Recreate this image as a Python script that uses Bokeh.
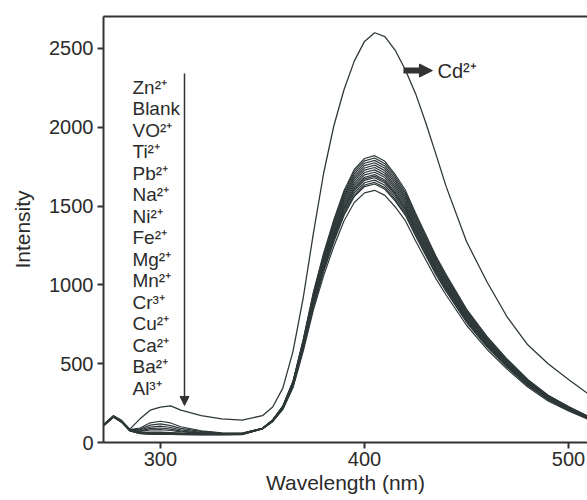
from bokeh.plotting import figure
from bokeh.models import Range1d, LinearAxis, FixedTicker, Arrow, NormalHead, ColumnDataSource
from bokeh.core.properties import value
from bokeh.embed import file_html
from bokeh.resources import INLINE

# ---------------- data ----------------
wavelength = [272, 277, 281, 285, 290, 295, 300, 305, 310, 320, 330, 340,
              350, 355, 360, 365, 370, 375, 380, 385, 390, 395, 400, 405,
              410, 415, 420, 425, 430, 435, 440, 450, 460, 470, 480, 490, 500, 510]

ion_labels = ["Zn\u00b2\u207a", "Blank", "VO\u00b2\u207a", "Ti\u00b2\u207a", "Pb\u00b2\u207a",
              "Na\u00b2\u207a", "Ni\u00b2\u207a", "Fe\u00b2\u207a", "Mg\u00b2\u207a", "Mn\u00b2\u207a",
              "Cr\u00b3\u207a", "Cu\u00b2\u207a", "Ca\u00b2\u207a", "Ba\u00b2\u207a", "Al\u00b3\u207a"]
cd_label = "Cd\u00b2\u207a"

zn = [112, 170, 136, 82, 92, 125, 135, 124, 100, 74, 62, 60,
      90, 143, 232, 390, 655, 955, 1202, 1414, 1599, 1732, 1802, 1820,
      1784, 1702, 1602, 1456, 1320, 1183, 1065, 846, 673, 528, 400, 300, 228, 164]
blank = [110, 168, 135, 80, 86, 110, 118, 107, 90, 70, 60, 58,
         90, 143, 230, 388, 650, 948, 1193, 1403, 1586, 1718, 1787, 1805,
         1769, 1688, 1588, 1444, 1309, 1173, 1056, 839, 668, 523, 397, 298, 226, 162]
vo = [110, 167, 134, 80, 80, 98, 104, 95, 80, 64, 58, 57,
      90, 142, 229, 385, 645, 940, 1183, 1391, 1573, 1703, 1772, 1790,
      1754, 1674, 1575, 1432, 1298, 1164, 1047, 832, 662, 519, 394, 295, 224, 161]
ti = [109, 167, 134, 79, 74, 88, 92, 85, 72, 61, 57, 56,
      89, 141, 227, 382, 640, 932, 1173, 1379, 1560, 1689, 1757, 1775,
      1740, 1660, 1562, 1420, 1287, 1154, 1038, 825, 657, 515, 391, 293, 222, 160]
pb = [109, 166, 133, 79, 70, 80, 82, 76, 68, 59, 56, 56,
      89, 140, 226, 379, 635, 925, 1163, 1368, 1547, 1675, 1742, 1760,
      1725, 1646, 1549, 1408, 1276, 1144, 1030, 818, 651, 510, 387, 290, 220, 158]
na = [108, 166, 133, 78, 64, 66, 66, 63, 60, 57, 55, 55,
      89, 140, 224, 376, 630, 917, 1154, 1356, 1534, 1661, 1728, 1745,
      1710, 1632, 1536, 1396, 1265, 1134, 1021, 811, 646, 506, 384, 288, 218, 157]
ni = [108, 165, 132, 78, 63, 62, 62, 60, 58, 56, 55, 55,
      89, 139, 223, 373, 625, 909, 1144, 1345, 1521, 1646, 1713, 1730,
      1695, 1618, 1522, 1384, 1254, 1125, 1012, 804, 640, 502, 381, 285, 216, 156]
fe = [107, 165, 132, 77, 62, 60, 60, 59, 57, 55, 54, 54,
      88, 138, 221, 370, 619, 902, 1134, 1333, 1508, 1632, 1698, 1715,
      1681, 1604, 1509, 1372, 1243, 1115, 1003, 797, 635, 497, 377, 283, 214, 154]
mg = [107, 164, 131, 77, 61, 59, 58, 57, 56, 54, 53, 54,
      88, 137, 220, 368, 614, 894, 1124, 1322, 1494, 1618, 1683, 1700,
      1666, 1590, 1496, 1360, 1233, 1105, 995, 791, 629, 493, 374, 281, 213, 153]
mn = [106, 164, 131, 76, 60, 58, 57, 56, 55, 54, 53, 53,
      88, 137, 219, 366, 611, 889, 1118, 1314, 1486, 1608, 1673, 1690,
      1656, 1580, 1487, 1352, 1225, 1099, 989, 786, 625, 490, 372, 279, 211, 152]
cr = [106, 163, 130, 76, 60, 57, 56, 55, 54, 53, 52, 53,
      88, 136, 218, 364, 608, 884, 1111, 1306, 1477, 1599, 1663, 1680,
      1646, 1571, 1478, 1344, 1218, 1092, 983, 781, 622, 487, 370, 277, 210, 151]
cu = [105, 163, 130, 75, 59, 56, 55, 54, 53, 52, 52, 52,
      87, 136, 216, 361, 602, 876, 1102, 1295, 1464, 1585, 1648, 1665,
      1632, 1557, 1465, 1332, 1207, 1082, 974, 774, 616, 483, 366, 275, 208, 150]
ca = [105, 162, 129, 75, 58, 55, 54, 53, 52, 51, 51, 52,
      87, 135, 215, 358, 597, 868, 1092, 1283, 1451, 1570, 1634, 1650,
      1617, 1543, 1452, 1320, 1196, 1073, 965, 767, 611, 479, 363, 272, 206, 149]
ba = [104, 162, 129, 74, 57, 54, 53, 52, 51, 50, 50, 51,
      87, 134, 214, 356, 594, 863, 1085, 1275, 1442, 1561, 1624, 1640,
      1607, 1533, 1443, 1312, 1189, 1066, 959, 763, 607, 476, 361, 271, 205, 148]
al = [104, 161, 128, 74, 56, 53, 52, 51, 50, 49, 49, 50,
      86, 132, 210, 349, 580, 843, 1059, 1245, 1407, 1523, 1584, 1600,
      1568, 1496, 1408, 1280, 1160, 1040, 936, 744, 592, 464, 352, 264, 200, 144]
cd = [112, 170, 140, 85, 150, 205, 225, 232, 205, 170, 150, 142,
      170, 225, 345, 580, 920, 1330, 1710, 2010, 2240, 2420, 2545, 2600,
      2575, 2490, 2365, 2215, 2030, 1830, 1625, 1275, 1020, 795, 620, 500, 400, 305]

cluster = [zn, blank, vo, ti, pb, na, ni, fe, mg, mn, cr, cu, ca, ba, al]

x_ticks = [300, 400, 500]
y_ticks = [0, 500, 1000, 1500, 2000, 2500]

# ---------------- figure ----------------
FONT = "Liberation Sans"
INK = "#2b2b2b"
LINE = "#2e3838"

p = figure(width=587, height=500,
           x_range=Range1d(272.1, 509.3), y_range=Range1d(0, 2703),
           output_backend="svg", toolbar_location=None,
           min_border_left=103, min_border_right=0, min_border_top=16, min_border_bottom=58)
p.grid.visible = False
p.outline_line_color = None

for ax in (p.xaxis[0], p.yaxis[0]):
    ax.axis_line_width = 2
    ax.axis_line_color = "#333333"
    ax.major_tick_line_color = "#333333"
    ax.major_tick_line_width = 2
    ax.major_tick_in = 0
    ax.minor_tick_line_color = None
    ax.major_label_text_font = FONT
    ax.major_label_text_font_size = "20px"
    ax.major_label_text_color = INK
    ax.axis_label_text_font = FONT
    ax.axis_label_text_font_size = "21px"
    ax.axis_label_text_font_style = "normal"
    ax.axis_label_text_color = INK

p.xaxis[0].ticker = FixedTicker(ticks=x_ticks)
p.yaxis[0].ticker = FixedTicker(ticks=y_ticks)
p.xaxis[0].major_tick_out = 6
p.yaxis[0].major_tick_out = 6
p.xaxis[0].major_label_standoff = 3
p.yaxis[0].major_label_standoff = 4
p.xaxis[0].axis_label = "Wavelength (nm)"
p.yaxis[0].axis_label = "Intensity"
p.xaxis[0].axis_label_standoff = 2
p.yaxis[0].axis_label_standoff = 12

top = LinearAxis(ticker=FixedTicker(ticks=[]), major_tick_out=0, major_tick_in=0,
                 major_label_text_font_size="0px", axis_line_width=2,
                 axis_line_color="#333333", minor_tick_line_color=None)
p.add_layout(top, "above")

for s in cluster:
    p.line(wavelength, s, line_color=LINE, line_width=1.2)
p.line(wavelength, cd, line_color=LINE, line_width=1.3)

# legend list
LEG_X, LEG_Y0, LEG_DY = 286.3, 2253, 136.4
src = ColumnDataSource(dict(x=[LEG_X] * len(ion_labels),
                            y=[LEG_Y0 - i * LEG_DY for i in range(len(ion_labels))],
                            t=ion_labels))
p.text(x="x", y="y", text="t", source=src, text_font=value(FONT), text_font_size="19px",
       text_color=INK, text_align="left", text_baseline="middle")

p.add_layout(Arrow(x_start=311.8, y_start=2341, x_end=311.8, y_end=235,
                   line_color="#333333", line_width=1.5,
                   end=NormalHead(size=9, fill_color="#333333", line_color="#333333")))

p.add_layout(Arrow(x_start=419.1, y_start=2360, x_end=433.3, y_end=2360,
                   line_color="#333333", line_width=6,
                   end=NormalHead(size=13, fill_color="#333333", line_color="#333333")))
p.text(x=[435.8], y=[2360], text=[cd_label], text_font=value(FONT), text_font_size="20px",
       text_color=INK, text_align="left", text_baseline="middle")

open("out.html", "w").write(file_html(p, INLINE))
